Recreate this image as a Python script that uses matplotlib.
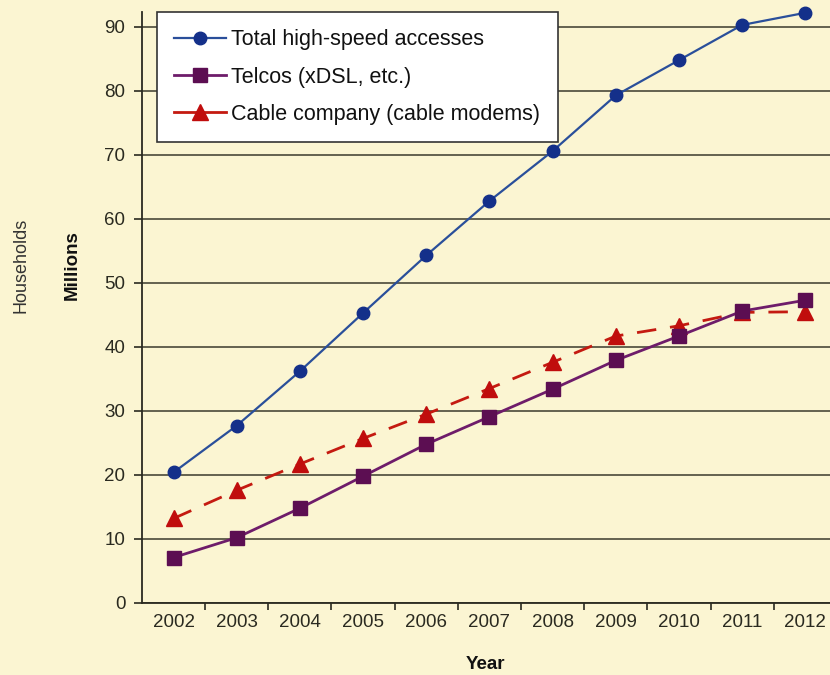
import numpy as np
import matplotlib.pyplot as plt

years = [2002, 2003, 2004, 2005, 2006, 2007, 2008, 2009, 2010, 2011, 2012]
total = [20.4, 27.7, 36.2, 45.3, 54.3, 62.8, 70.6, 79.3, 84.8, 90.3, 92.2]
telcos = [7.1, 10.2, 14.8, 19.8, 24.8, 29.1, 33.4, 37.9, 41.7, 45.6, 47.3]
cable = [13.2, 17.6, 21.7, 25.7, 29.5, 33.5, 37.6, 41.7, 43.3, 45.4, 45.5]
yticks = [0, 10, 20, 30, 40, 50, 60, 70, 80, 90]

plt.rcParams['font.family'] = ['Liberation Sans', 'DejaVu Sans']

bg = '#fbf5d2'
ink = '#2a2a20'

fig = plt.figure(figsize=(8.3, 6.75), dpi=100, facecolor=bg)
ax = fig.add_axes([0.171, 0.1067, 0.829, 0.8753], facecolor=bg)

ax.plot(years, total, color='#2a4f9a', lw=1.6, marker='o', ms=9, clip_on=False,
        mfc='#14308a', mec='#14308a', label='Total high-speed accesses', zorder=4)
ax.plot(years, telcos, color='#6e1c6a', lw=2.0, marker='s', ms=10,
        mfc='#5c0e52', mec='#5c0e52', label='Telcos (xDSL, etc.)', zorder=4)
ax.plot(years, cable, color='#c41a10', lw=2.0, ls=(0, (7, 5)), marker='^', ms=12,
        mfc='#c00d0d', mec='#c00d0d', label='Cable company (cable modems)', zorder=3)

ax.set_xlim(2001.5, 2012.39)
ax.set_ylim(0, 92.3)
ax.set_yticks(yticks)
ax.set_xticks(years)
ax.set_xticks(np.arange(2002.5, 2012, 1), minor=True)
ax.tick_params(axis='x', which='major', length=0, pad=8, labelsize=13.5, colors=ink)
ax.tick_params(axis='x', which='minor', length=5, width=1.2, color=ink)
ax.tick_params(axis='y', length=6, width=1.2, pad=6, labelsize=13.5, colors=ink)
ax.grid(axis='y', color='#3b3a2c', lw=1.1)
ax.set_axisbelow(True)
for s in ['top', 'right']:
    ax.spines[s].set_visible(False)
for s in ['left', 'bottom']:
    ax.spines[s].set_color(ink)
    ax.spines[s].set_linewidth(1.3)

ax.set_xlabel('Year', fontsize=13.5, fontweight='bold', color='#111111', labelpad=18)
fig.text(0.025, 0.607, 'Households', rotation=90, ha='center', va='center',
         fontsize=13, color='#333333')
fig.text(0.087, 0.607, 'Millions', rotation=90, ha='center', va='center',
         fontsize=13.5, fontweight='bold', color='#111111')

leg = ax.legend(loc='upper left', bbox_to_anchor=(0.022, 1.0), borderaxespad=0,
                fontsize=15.5, frameon=True, fancybox=False, framealpha=1,
                edgecolor='#333333', handlelength=2.4, handletextpad=0.25,
                borderpad=0.8, labelspacing=0.75)
leg.get_frame().set_linewidth(1.2)
leg.get_lines()[2].set_linestyle('-')
for t in leg.get_texts():
    t.set_color('#111111')

fig.savefig('out.png', dpi=100, facecolor=bg)
